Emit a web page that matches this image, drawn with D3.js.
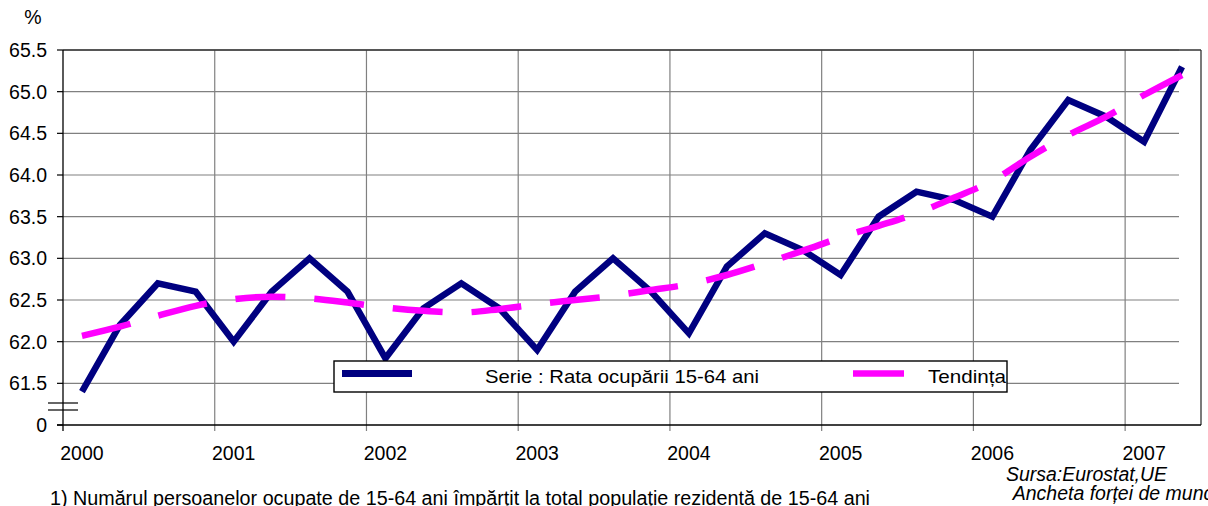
<!DOCTYPE html>
<html>
<head>
<meta charset="utf-8">
<script src="https://cdn.jsdelivr.net/npm/d3@7"></script>
<style>
  html, body { margin: 0; padding: 0; background: #fff; }
  svg { display: block; font-family: "Liberation Sans", Arial, sans-serif; }
</style>
</head>
<body>
<svg id="chart" width="1208" height="506"></svg>
<script>
// ---- data (quarterly, 2000 Q1 .. 2007 Q2) ----
const quarters = d3.range(30).map(i => (2000 + Math.floor(i / 4)) + " T" + (i % 4 + 1));
const rate = [61.4, 62.2, 62.7, 62.6, 62.0, 62.6, 63.0, 62.6,
              61.8, 62.4, 62.7, 62.4, 61.9, 62.6, 63.0, 62.6,
              62.1, 62.9, 63.3, 63.1, 62.8, 63.5, 63.8, 63.7,
              63.5, 64.3, 64.9, 64.7, 64.4, 65.3];
const trend = [62.07, 62.18, 62.31, 62.43, 62.51, 62.54, 62.52, 62.47,
               62.41, 62.37, 62.35, 62.39, 62.45, 62.50, 62.55, 62.62,
               62.69, 62.80, 62.94, 63.09, 63.25, 63.39, 63.54, 63.73,
               63.93, 64.22, 64.48, 64.70, 64.96, 65.20];
const yearLabels = ["2000", "2001", "2002", "2003", "2004", "2005", "2006", "2007"];
const yTicks = [61.0, 61.5, 62.0, 62.5, 63.0, 63.5, 64.0, 64.5, 65.0, 65.5];
const seriesNames = ["Serie : Rata ocupării 15-64 ani", "Tendința"];
const footnote = "1) Numărul persoanelor ocupate de 15-64 ani împărțit la total populație rezidentă de 15-64 ani";
const source = ["Sursa:Eurostat,UE", " Ancheta forței de muncă"];

// ---- layout ----
const L = 63, R = 1201, T = 50, B = 425, gridRight = 1179;
const svg = d3.select("#chart");
const x = d3.scaleBand().domain(d3.range(quarters.length)).range([L, R]).padding(0);
const y = d3.scaleLinear().domain([61, 65.5]).range([B, T]);
const cx = i => x(i) + x.bandwidth() / 2;

const g = svg.append("g");

// horizontal gridlines
g.selectAll("line.hg").data(yTicks.slice(1)).join("line")
  .attr("x1", L).attr("x2", gridRight)
  .attr("y1", d => y(d)).attr("y2", d => y(d))
  .attr("stroke", "#808080").attr("stroke-width", 1.2);

// vertical gridlines at year boundaries
const yearIdx = yearLabels.map((d, i) => i * 4);
g.selectAll("line.vg").data(yearIdx.slice(1)).join("line")
  .attr("x1", d => x(d)).attr("x2", d => x(d))
  .attr("y1", T).attr("y2", B + 6)
  .attr("stroke", "#808080").attr("stroke-width", 1.2);

// frame top/right
g.append("line").attr("x1", L).attr("x2", R).attr("y1", T).attr("y2", T).attr("stroke", "#333").attr("stroke-width", 1.3);
g.append("line").attr("x1", R).attr("x2", R).attr("y1", T).attr("y2", B).attr("stroke", "#333").attr("stroke-width", 1.3);

// axes
g.append("line").attr("x1", L).attr("x2", L).attr("y1", T).attr("y2", B + 6).attr("stroke", "#000").attr("stroke-width", 1.3);
g.append("line").attr("x1", L - 6).attr("x2", R).attr("y1", B).attr("y2", B).attr("stroke", "#000").attr("stroke-width", 1.3);

// y ticks + labels
g.selectAll("line.yt").data(yTicks).join("line")
  .attr("x1", L - 6).attr("x2", L).attr("y1", d => y(d)).attr("y2", d => y(d))
  .attr("stroke", "#000").attr("stroke-width", 1.2);
g.selectAll("text.yl").data(yTicks).join("text")
  .attr("x", 47).attr("y", d => y(d)).attr("dy", "0.36em")
  .attr("text-anchor", "end").attr("font-size", 19.5).attr("fill", "#000")
  .text(d => d === 61 ? "0" : d.toFixed(1));

// axis break mark
[403, 410].forEach(v => g.append("line").attr("x1", 48).attr("x2", 78).attr("y1", v).attr("y2", v).attr("stroke", "#000").attr("stroke-width", 1.2));

// percent sign
g.append("text").attr("x", 33).attr("y", 24).attr("text-anchor", "middle").attr("font-size", 19.5).text("%");

// x labels
g.selectAll("text.xl").data(yearLabels).join("text")
  .attr("x", (d, i) => cx(i * 4)).attr("y", 460)
  .attr("text-anchor", "middle").attr("font-size", 19.5).text(d => d);

// series line
const line = d3.line().x((d, i) => cx(i)).y(d => y(d));
g.append("path").datum(rate).attr("d", line)
  .attr("fill", "none").attr("stroke", "#000080").attr("stroke-width", 6.5)
  .attr("stroke-linejoin", "miter").attr("stroke-linecap", "butt");

// trend line
g.append("path").datum(trend).attr("d", line.curve(d3.curveMonotoneX))
  .attr("fill", "none").attr("stroke", "#FF00FF").attr("stroke-width", 6.5)
  .attr("stroke-dasharray", "50,29").attr("stroke-linecap", "butt");

// legend
const lg = svg.append("g");
lg.append("rect").attr("x", 334).attr("y", 361).attr("width", 673).attr("height", 31)
  .attr("fill", "#fff").attr("stroke", "#000").attr("stroke-width", 1.4);
lg.append("line").attr("x1", 342).attr("x2", 412).attr("y1", 373.5).attr("y2", 373.5)
  .attr("stroke", "#000080").attr("stroke-width", 7);
lg.append("text").attr("x", 485).attr("y", 383).attr("font-size", 19)
  .attr("textLength", 274).attr("lengthAdjust", "spacingAndGlyphs").text(seriesNames[0]);
lg.append("line").attr("x1", 853).attr("x2", 904).attr("y1", 373.5).attr("y2", 373.5)
  .attr("stroke", "#FF00FF").attr("stroke-width", 6.5);
lg.append("text").attr("x", 928).attr("y", 383).attr("font-size", 19)
  .attr("textLength", 78).attr("lengthAdjust", "spacingAndGlyphs").text(seriesNames[1]);

// source & footnote
svg.append("text").attr("x", 1006).attr("y", 481).attr("font-size", 19.5).attr("font-style", "italic")
  .attr("textLength", 161).attr("lengthAdjust", "spacingAndGlyphs").text(source[0]);
svg.append("text").attr("x", 1008).attr("y", 500).attr("font-size", 19.5).attr("font-style", "italic").attr("xml:space", "preserve").text(source[1]);
svg.append("text").attr("x", 50).attr("y", 505).attr("font-size", 19.5)
  .attr("textLength", 820).attr("lengthAdjust", "spacingAndGlyphs").text(footnote);
</script>
</body>
</html>
